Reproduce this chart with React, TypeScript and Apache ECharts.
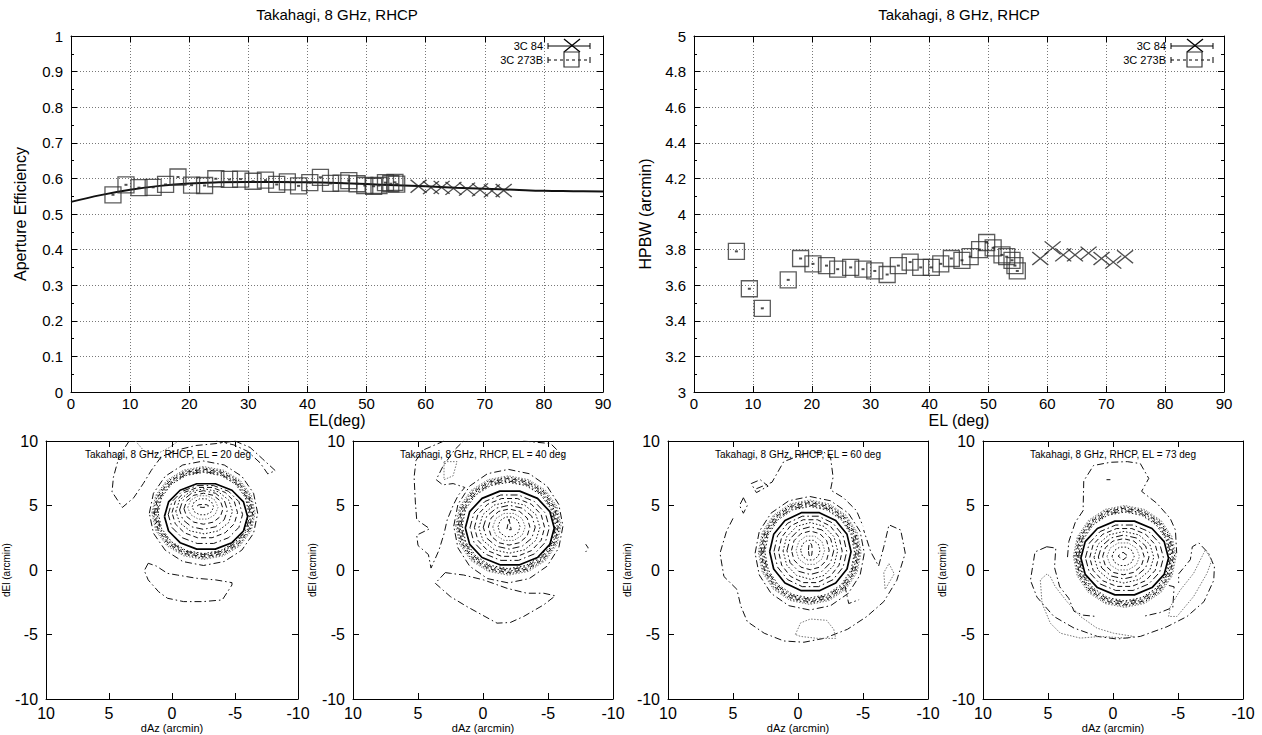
import React, { useEffect, useRef } from "react";
import * as echarts from "echarts";

const FONT = "'Liberation Sans', Arial, Helvetica, sans-serif";

// ---------- Top-left: aperture efficiency ----------
const effElB = [7.1, 9.3, 11.5, 13.9, 16.0, 18.1, 20.4, 22.6, 24.5, 26.8, 28.7, 30.8, 32.9, 34.8, 36.6, 38.5, 40.4, 42.2, 43.9, 45.7, 47.0, 48.4, 49.7, 51.2, 52.1, 53.2, 54.1, 54.8, 55.1];
const effValB = [0.554, 0.582, 0.574, 0.575, 0.583, 0.604, 0.581, 0.580, 0.599, 0.597, 0.598, 0.592, 0.595, 0.583, 0.590, 0.579, 0.588, 0.603, 0.586, 0.587, 0.594, 0.585, 0.580, 0.578, 0.580, 0.588, 0.585, 0.589, 0.584];
const el84 = [58.8, 60.9, 62.7, 64.7, 67.0, 69.2, 71.2, 73.2];
const effVal84 = [0.578, 0.574, 0.575, 0.572, 0.570, 0.568, 0.565, 0.566];
const fitEl = [0, 5, 10, 15, 20, 25, 30, 35, 40, 45, 50, 55, 60, 65, 70, 75, 80, 85, 90];
const fitVal = [0.534, 0.553, 0.568, 0.579, 0.586, 0.589, 0.590, 0.590, 0.589, 0.587, 0.584, 0.581, 0.578, 0.574, 0.571, 0.568, 0.565, 0.564, 0.563];

// ---------- Top-right: HPBW ----------
const hpElB = [7.2, 9.4, 11.6, 16.0, 18.1, 20.2, 22.5, 24.4, 26.6, 28.7, 30.7, 32.8, 34.7, 36.7, 38.5, 40.3, 41.9, 43.7, 45.5, 46.9, 48.5, 49.7, 50.8, 52.3, 53.1, 54.0, 54.5, 54.9];
const hpValB = [3.79, 3.58, 3.47, 3.63, 3.75, 3.72, 3.71, 3.69, 3.70, 3.69, 3.68, 3.66, 3.71, 3.73, 3.70, 3.70, 3.72, 3.75, 3.74, 3.76, 3.80, 3.84, 3.81, 3.77, 3.76, 3.74, 3.71, 3.68];
const hpVal84 = [3.75, 3.81, 3.77, 3.77, 3.78, 3.75, 3.73, 3.76];

// ---------- Bottom: beam maps ----------
const mapEl = [20, 40, 60, 73];
// contour rings: [cx, cy, rx, ry, style, vertices, phaseDeg]
// style: 0 solid, 1 dashed, 2 dotted, 3 dash-dot, 4 grey dotted
const rings20 = [
  [-2.5, 4.4, 4.3, 4.05, 3, 16, 0],
  [-2.5, 4.42, 4.1, 3.6, 4, 16, 0],
  [-2.5, 4.42, 4.0, 3.5, 2, 16, 0],
  [-2.5, 4.42, 3.9, 3.4, 1, 16, 0],
  [-2.5, 4.42, 3.8, 3.3, 2, 16, 0],
  [-2.5, 4.42, 3.7, 3.22, 3, 16, 0],
  [-2.5, 4.42, 3.6, 3.15, 2, 16, 0],
  [-2.7, 4.15, 3.3, 2.6, 0, 14, 0],
  [-2.65, 4.3, 2.95, 2.3, 3, 14, 0],
  [-2.6, 4.45, 2.6, 2.0, 1, 14, 0],
  [-2.55, 4.55, 2.25, 1.75, 2, 12, 0],
  [-2.5, 4.65, 1.9, 1.5, 3, 12, 0],
  [-2.5, 4.75, 1.55, 1.2, 1, 12, 0],
  [-2.45, 4.85, 1.2, 0.95, 4, 10, 0],
  [-2.45, 4.9, 0.85, 0.65, 2, 10, 0],
  [-2.45, 4.97, 0.45, 0.12, 1, 8, 0],
];
const rings40 = [
  [-1.95, 3.4, 4.2, 4.4, 3, 16, 0],
  [-1.95, 3.45, 4.05, 3.85, 4, 16, 0],
  [-1.95, 3.45, 3.95, 3.75, 2, 16, 0],
  [-1.95, 3.45, 3.85, 3.65, 1, 16, 0],
  [-1.95, 3.45, 3.75, 3.55, 2, 16, 0],
  [-1.95, 3.45, 3.65, 3.45, 3, 16, 0],
  [-1.95, 3.45, 3.55, 3.35, 2, 16, 0],
  [-2.06, 3.26, 3.42, 2.93, 0, 14, 0],
  [-2.05, 3.28, 3.05, 2.6, 3, 14, 0],
  [-2.04, 3.3, 2.7, 2.3, 1, 14, 0],
  [-2.03, 3.3, 2.35, 2.0, 2, 12, 0],
  [-2.02, 3.32, 2.0, 1.7, 3, 12, 0],
  [-2.01, 3.33, 1.6, 1.4, 1, 12, 0],
  [-2.0, 3.34, 1.25, 1.1, 4, 10, 0],
  [-2.0, 3.35, 0.85, 0.8, 2, 10, 0],
  [-2.0, 3.4, 0.2, 0.55, 1, 3, 90],
];
const rings60 = [
  [-0.9, 1.3, 4.2, 4.4, 3, 16, 0],
  [-0.9, 1.38, 3.95, 4.05, 4, 16, 0],
  [-0.9, 1.38, 3.85, 3.95, 2, 16, 0],
  [-0.9, 1.38, 3.75, 3.85, 1, 16, 0],
  [-0.9, 1.38, 3.65, 3.75, 2, 16, 0],
  [-0.9, 1.38, 3.55, 3.65, 3, 16, 0],
  [-0.9, 1.38, 3.45, 3.55, 2, 16, 0],
  [-0.95, 1.42, 3.13, 3.1, 0, 14, 0],
  [-0.95, 1.44, 2.8, 2.8, 3, 14, 0],
  [-0.95, 1.46, 2.45, 2.5, 1, 14, 0],
  [-0.95, 1.48, 2.1, 2.2, 2, 12, 0],
  [-0.95, 1.5, 1.8, 1.85, 3, 12, 0],
  [-0.95, 1.52, 1.45, 1.5, 1, 12, 0],
  [-0.95, 1.53, 1.1, 1.15, 4, 10, 0],
  [-0.95, 1.54, 0.75, 0.8, 2, 10, 0],
  [-0.95, 1.55, 0.15, 0.55, 1, 8, 0],
];
const rings73 = [
  [-0.9, 1.05, 3.95, 3.95, 4, 16, 0],
  [-0.9, 1.05, 3.85, 3.85, 2, 16, 0],
  [-0.9, 1.05, 3.75, 3.75, 1, 16, 0],
  [-0.9, 1.05, 3.65, 3.65, 2, 16, 0],
  [-0.9, 1.05, 3.55, 3.55, 3, 16, 0],
  [-0.9, 1.05, 3.45, 3.45, 2, 16, 0],
  [-0.9, 0.93, 3.37, 2.93, 0, 14, 0],
  [-0.88, 0.95, 3.0, 2.6, 3, 14, 0],
  [-0.86, 0.97, 2.65, 2.3, 1, 14, 0],
  [-0.84, 0.99, 2.3, 2.0, 2, 12, 0],
  [-0.82, 1.01, 1.95, 1.7, 3, 12, 0],
  [-0.8, 1.03, 1.6, 1.4, 1, 12, 0],
  [-0.79, 1.05, 1.25, 1.1, 4, 10, 0],
  [-0.78, 1.06, 0.85, 0.75, 2, 10, 0],
  [-0.77, 1.08, 0.38, 0.3, 1, 4, 90],
];

// side-lobe contours: [style, points]
const lobes20 = [
  [3, [[3.4, 10], [4.2, 8.8], [4.65, 7.2], [4.76, 6.06], [3.94, 4.85], [3.04, 5.6], [2.28, 6.7], [1.64, 7.73], [0.87, 8.76], [-0.4, 9.3], [-1.9, 9.65], [-3.5, 9.8], [-5.0, 10]]],
  [3, [[-5.0, 10], [-6.2, 9.5], [-7.2, 8.6], [-8.2, 7.7], [-7.6, 7.45], [-7.0, 8.3], [-6.0, 9.2], [-4.9, 9.7], [-3.5, 10]]],
  [4, [[2.9, 10], [2.2, 9.2], [1.2, 9.0], [0.2, 9.5], [-0.5, 10]]],
  [3, [[1.89, 0.52], [2.2, -0.05], [1.89, -0.77], [1.07, -1.68], [0.36, -2.19], [-0.92, -2.45], [-2.46, -2.45], [-3.99, -2.32], [-4.76, -1.16], [-4.76, -0.98], [-3.48, -0.77], [-1.94, -0.64], [-0.41, -0.39], [0.36, -0.26], [1.25, 0.31], [1.89, 0.52]]],
];
const lobes40 = [
  [3, [[3.0, 10], [4.6, 9.3], [5.15, 8.5], [5.3, 7.2], [5.2, 5.2], [5.1, 3.9], [4.1, 3.2], [5.1, 2.7], [5.0, 1.9], [4.2, 1.2], [4.0, 0.15], [3.4, 1.5], [3.0, 2.8], [2.75, 3.9], [2.3, 5.0], [1.9, 5.8], [1.4, 6.4], [2.3, 6.7], [3.1, 6.6], [3.6, 7.0], [3.1, 8.0], [2.2, 9.3], [1.5, 10]]],
  [4, [[3.0, 8.4], [2.0, 8.4], [2.3, 7.3], [3.0, 7.0], [3.0, 8.4]]],
  [3, [[-3.1, 10], [-5.2, 9.8], [-6.2, 8.8]]],
  [3, [[2.9, -0.2], [3.67, -1.03], [2.51, -2.06], [1.23, -2.84], [-1.08, -4.12], [-2.1, -4.07], [-3.13, -3.6], [-4.67, -2.7], [-5.56, -2.0], [-4.67, -1.8], [-3.38, -1.8], [-1.85, -1.42], [-0.05, -0.77], [1.49, -0.39], [2.51, -0.26], [2.9, -0.2]]],
  [1, [[-7.9, 2.0], [-8.1, 1.7], [-7.9, 1.4]]],
];
const lobes60 = [
  [3, [[3.2, 6.3], [2.0, 6.8], [1.1, 8.4], [-0.44, 9.0], [-1.97, 9.15], [-2.5, 8.76], [-2.7, 7.2], [-2.5, 6.2], [-3.5, 5.6], [-4.5, 4.6], [-5.0, 3.4]]],
  [3, [[3.6, 6.7], [2.9, 7.0], [2.3, 6.5], [3.2, 6.0], [3.6, 6.7]]],
  [3, [[4.2, 5.6], [4.5, 5.0], [4.2, 4.4], [3.9, 5.0], [4.2, 5.6]]],
  [3, [[5.0, 4.0], [5.5, 3.0], [6.0, 1.3], [5.7, -0.5], [4.7, -1.5], [4.4, -2.8], [3.9, -4.0], [2.6, -4.9], [1.1, -5.5], [-0.45, -5.6], [-2.0, -5.3], [-3.8, -4.6], [-5.3, -3.6], [-6.6, -2.45], [-7.6, -0.8], [-8.25, 1.3], [-7.9, 3.1], [-7.0, 3.5], [-6.6, 1.8], [-6.2, 0.3], [-5.6, 1.4], [-5.05, 3.1]]],
  [3, [[-3.6, -1.2], [-3.9, -2.6], [-4.7, -2.3]]],
  [4, [[0.2, -5.0], [-0.2, -4.1], [-0.95, -3.8], [-2.2, -3.9], [-2.75, -4.6], [-2.9, -5.3], [-1.5, -5.3], [-0.2, -5.15], [0.2, -5.0]]],
  [4, [[-7.0, 0.5], [-7.4, -0.3], [-6.7, -1.5], [-6.6, -0.2], [-7.0, 0.5]]],
];
const lobes73 = [
  [3, [[3.5, 1.0], [3.4, 2.2], [2.9, 3.7], [2.3, 4.6], [2.25, 6.9], [1.5, 8.1], [0.2, 8.35], [-1.1, 8.4], [-2.1, 8.25], [-2.75, 7.1], [-2.2, 6.1], [-3.4, 5.15], [-4.4, 4.0], [-4.8, 3.1], [-4.9, 1.3]]],
  [3, [[5.1, 1.8], [6.0, 1.4], [6.35, -0.8], [5.85, -2.1], [4.55, -3.6], [3.0, -4.5], [1.2, -5.15], [-0.3, -5.35], [-2.1, -5.15], [-4.15, -4.4], [-5.7, -3.6], [-7.0, -2.45], [-7.75, -0.8], [-7.8, 0.25], [-7.35, 1.3], [-6.6, 2.1], [-6.1, 1.8], [-5.95, 0.8], [-5.05, -0.3], [-5.05, -1.0]]],
  [3, [[5.1, 1.8], [4.4, 1.7], [4.5, 0.2], [4.1, -1.3], [3.4, -2.2], [3.0, -3.2], [2.3, -3.5], [1.3, -3.6]]],
  [3, [[-4.3, -1.2], [-4.7, -1.3], [-4.6, -2.9], [-3.6, -3.3], [-2.3, -3.6]]],
  [4, [[5.08, -0.31], [5.59, -0.77], [5.46, -2.58], [4.82, -4.12], [4.05, -4.9], [2.51, -5.28], [0.97, -5.15], [-1.08, -5.28], [-1.59, -5.15], [-0.05, -4.9], [1.23, -4.51], [2.51, -3.6], [3.54, -2.45], [4.44, -1.29], [4.82, -0.52], [5.08, -0.31]]],
  [4, [[-7.1, 1.55], [-7.6, 0.77], [-7.23, -0.26], [-6.2, -2.06], [-4.92, -3.6], [-4.28, -3.6], [-4.41, -2.84], [-5.18, -1.55], [-6.2, -0.26], [-6.97, 1.29], [-7.1, 1.55]]],
  [1, [[0.5, 7.0], [0.2, 7.0]]],
];

const mapRings = [rings20, rings40, rings60, rings73];
const mapLobes = [lobes20, lobes40, lobes60, lobes73];

// ---------- layout ----------
const topGrids = [
  { left: 71, top: 36, width: 532, height: 356 },
  { left: 694, top: 36, width: 530, height: 356 },
];
const botLefts = [38, 353, 668, 983];
const BOT_TOP = 441;
const BOT_W = 260;
const BOT_H = 258;

const lineStyles: any[] = [
  { color: "#000", width: 1.7, type: "solid" },
  { color: "#111", width: 1, type: [5, 3] },
  { color: "#111", width: 1, type: [1.5, 2] },
  { color: "#111", width: 1, type: [7, 3, 1.5, 3] },
  { color: "#777", width: 1, type: [1.5, 1.5] },
];

function ringPoints(r: number[]) {
  const [cx, cy, rx, ry, , n, ph] = r;
  const pts: number[][] = [];
  for (let i = 0; i <= n; i++) {
    const a = ((ph + (360 * i) / n) * Math.PI) / 180;
    pts.push([cx + rx * Math.cos(a), cy + ry * Math.sin(a)]);
  }
  return pts;
}

const axisLine = { show: true, onZero: false, lineStyle: { color: "#000", width: 1 } };
const labelStyle = (size: number) => ({ color: "#000", fontFamily: FONT, fontSize: size });

function buildOption() {
  const grid: any[] = [];
  const xAxis: any[] = [];
  const yAxis: any[] = [];
  const series: any[] = [];
  const graphic: any[] = [];

  // top grids
  const topY = [
    { min: 0, max: 1, interval: 0.1, name: "Aperture Efficiency", gap: 43 },
    { min: 3, max: 5, interval: 0.2, name: "HPBW (arcmin)", gap: 41 },
  ];
  const topXName = ["EL(deg)", "EL (deg)"];
  topGrids.forEach((g, i) => {
    grid.push({ ...g, containLabel: false });
    const gi = grid.length - 1;
    const split = { show: true, lineStyle: { color: "#555", width: 0.8, type: [1, 2] } };
    xAxis.push({
      type: "value", gridIndex: gi, min: 0, max: 90, interval: 10, position: "bottom",
      axisLine, axisTick: { inside: true, length: 6, lineStyle: { color: "#000" } },
      axisLabel: { ...labelStyle(15), margin: 4, showMinLabel: true, showMaxLabel: true },
      splitLine: split,
      name: topXName[i], nameLocation: "middle", nameGap: 20,
      nameTextStyle: { ...labelStyle(16) },
    });
    xAxis.push({
      type: "value", gridIndex: gi, min: 0, max: 90, interval: 10, position: "top",
      axisLine, axisTick: { inside: true, length: 6, lineStyle: { color: "#000" } },
      axisLabel: { show: false }, splitLine: { show: false },
    });
    const ty = topY[i];
    yAxis.push({
      type: "value", gridIndex: gi, min: ty.min, max: ty.max, interval: ty.interval, position: "left",
      axisLine, axisTick: { inside: true, length: 6, lineStyle: { color: "#000" } },
      minorTick: { show: true, splitNumber: 2, length: 3, lineStyle: { color: "#000" } },
      axisLabel: { ...labelStyle(15), margin: 8, showMinLabel: true, showMaxLabel: true },
      splitLine: split,
      name: ty.name, nameLocation: "middle", nameGap: ty.gap, nameRotate: 90,
      nameTextStyle: { ...labelStyle(16) },
    });
    yAxis.push({
      type: "value", gridIndex: gi, min: ty.min, max: ty.max, interval: ty.interval, position: "right",
      axisLine, axisTick: { inside: true, length: 6, lineStyle: { color: "#000" } },
      minorTick: { show: true, splitNumber: 2, length: 3, lineStyle: { color: "#000" } },
      axisLabel: { show: false }, splitLine: { show: false },
    });
    graphic.push({
      type: "text", x: g.left + g.width / 2, y: 14, silent: true,
      style: { text: "Takahagi, 8 GHz, RHCP", fontSize: 15, fontFamily: FONT, fill: "#000", align: "center", verticalAlign: "middle", textAlign: "center", textVerticalAlign: "middle" },
    });
  });

  const ax = (gi: number) => ({ xAxisIndex: gi * 2, yAxisIndex: gi * 2 });
  const squareStyle = { color: "rgba(0,0,0,0)", borderColor: "#333", borderWidth: 1.3 };
  const crossPath = "path://M0,0L16,13M16,0L0,13";
  const crossStyle = { color: "rgba(0,0,0,0)", borderColor: "#222", borderWidth: 1.3 };

  // efficiency
  series.push({
    type: "line", ...ax(0), data: fitEl.map((e, i) => [e, fitVal[i]]), smooth: 0.4,
    showSymbol: false, lineStyle: { color: "#111", width: 2 }, silent: true, z: 3,
  });
  series.push({
    type: "scatter", ...ax(0), data: effElB.map((e, i) => [e, effValB[i]]),
    symbol: "rect", symbolSize: 16, itemStyle: squareStyle, silent: true, z: 4,
  });
  series.push({
    type: "scatter", ...ax(0), data: effElB.map((e, i) => [e, effValB[i]]),
    symbol: "rect", symbolSize: [3, 2], itemStyle: { color: "#222" }, silent: true, z: 5,
  });
  series.push({
    type: "scatter", ...ax(0), data: el84.map((e, i) => [e, effVal84[i]]),
    symbol: crossPath, symbolSize: [16, 13], itemStyle: crossStyle, silent: true, z: 4,
  });
  // hpbw
  series.push({
    type: "scatter", ...ax(1), data: hpElB.map((e, i) => [e, hpValB[i]]),
    symbol: "rect", symbolSize: 16, itemStyle: squareStyle, silent: true, z: 4,
  });
  series.push({
    type: "scatter", ...ax(1), data: hpElB.map((e, i) => [e, hpValB[i]]),
    symbol: "rect", symbolSize: [3, 2], itemStyle: { color: "#222" }, silent: true, z: 5,
  });
  series.push({
    type: "scatter", ...ax(1), data: el84.map((e, i) => [e, hpVal84[i]]),
    symbol: crossPath, symbolSize: [16, 13], itemStyle: crossStyle, silent: true, z: 4,
  });

  // legends
  const legendOffsets = [0, 623];
  legendOffsets.forEach((dx) => {
    const ls = { fontSize: 11, fontFamily: FONT, fill: "#000", align: "right", verticalAlign: "middle", textAlign: "right", textVerticalAlign: "middle" };
    graphic.push({ type: "text", x: 543 + dx, y: 46, silent: true, style: { ...ls, text: "3C 84" } });
    graphic.push({ type: "text", x: 543 + dx, y: 60, silent: true, style: { ...ls, text: "3C 273B" } });
    const st = { stroke: "#000", lineWidth: 1 };
    graphic.push({ type: "line", silent: true, shape: { x1: 548 + dx, y1: 46, x2: 590 + dx, y2: 46 }, style: st });
    graphic.push({ type: "line", silent: true, shape: { x1: 548 + dx, y1: 43, x2: 548 + dx, y2: 49 }, style: st });
    graphic.push({ type: "line", silent: true, shape: { x1: 590 + dx, y1: 43, x2: 590 + dx, y2: 49 }, style: st });
    graphic.push({ type: "line", silent: true, shape: { x1: 564 + dx, y1: 39, x2: 580 + dx, y2: 52 }, style: { stroke: "#000", lineWidth: 1.3 } });
    graphic.push({ type: "line", silent: true, shape: { x1: 580 + dx, y1: 39, x2: 564 + dx, y2: 52 }, style: { stroke: "#000", lineWidth: 1.3 } });
    graphic.push({ type: "line", silent: true, shape: { x1: 548 + dx, y1: 60, x2: 590 + dx, y2: 60 }, style: { stroke: "#000", lineWidth: 1, lineDash: [3, 3] } });
    graphic.push({ type: "line", silent: true, shape: { x1: 548 + dx, y1: 57, x2: 548 + dx, y2: 63 }, style: st });
    graphic.push({ type: "line", silent: true, shape: { x1: 590 + dx, y1: 57, x2: 590 + dx, y2: 63 }, style: st });
    graphic.push({ type: "rect", silent: true, shape: { x: 564 + dx, y: 52, width: 15, height: 15 }, style: { fill: "none", stroke: "#333", lineWidth: 1.2 } });
  });

  // bottom maps
  botLefts.forEach((left, p) => {
    grid.push({ left, top: BOT_TOP, width: BOT_W, height: BOT_H, containLabel: false });
    const gi = grid.length - 1;
    const tick = { inside: true, length: 6, lineStyle: { color: "#000" } };
    xAxis.push({
      type: "value", gridIndex: gi, min: -10, max: 10, interval: 5, inverse: true, position: "bottom",
      axisLine, axisTick: tick,
      axisLabel: { ...labelStyle(16), margin: 6, showMinLabel: true, showMaxLabel: true },
      splitLine: { show: false },
      name: "dAz (arcmin)", nameLocation: "middle", nameGap: 23, nameTextStyle: { ...labelStyle(11) },
    });
    xAxis.push({
      type: "value", gridIndex: gi, min: -10, max: 10, interval: 5, inverse: true, position: "top",
      axisLine, axisTick: tick, axisLabel: { show: false }, splitLine: { show: false },
    });
    yAxis.push({
      type: "value", gridIndex: gi, min: -10, max: 10, interval: 5, position: "left",
      axisLine, axisTick: tick,
      axisLabel: { ...labelStyle(16), margin: 8, showMinLabel: true, showMaxLabel: true },
      splitLine: { show: false },
      name: "dEl (arcmin)", nameLocation: "middle", nameGap: 20, nameRotate: 90, nameTextStyle: { ...labelStyle(10) },
    });
    yAxis.push({
      type: "value", gridIndex: gi, min: -10, max: 10, interval: 5, position: "right",
      axisLine, axisTick: tick, axisLabel: { show: false }, splitLine: { show: false },
    });
    mapRings[p].forEach((r: any) => {
      series.push({
        type: "line", ...ax(gi), data: ringPoints(r), showSymbol: false, silent: true,
        lineStyle: lineStyles[r[4]], z: r[4] === 0 ? 4 : 3,
      });
    });
    mapLobes[p].forEach((l: any) => {
      series.push({
        type: "line", ...ax(gi), data: l[1], showSymbol: false, silent: true,
        lineStyle: lineStyles[l[0]], z: 3,
      });
    });
    graphic.push({
      type: "text", x: left + BOT_W / 2, y: 454, silent: true, z: 100,
      style: { text: `Takahagi, 8 GHz, RHCP, EL = ${mapEl[p]} deg`, fontSize: 10, fontFamily: FONT, fill: "#000", align: "center", verticalAlign: "middle", textAlign: "center", textVerticalAlign: "middle" },
    });
  });

  return {
    animation: false,
    backgroundColor: "#fff",
    textStyle: { fontFamily: FONT },
    grid, xAxis, yAxis, series, graphic,
  };
}

export default function App() {
  const ref = useRef<HTMLDivElement>(null);
  useEffect(() => {
    const chart = echarts.init(ref.current!, null, { renderer: "svg" });
    chart.setOption(buildOption() as any);
    return () => chart.dispose();
  }, []);
  return (
    <div
      ref={ref}
      style={{ position: "fixed", left: 0, top: 0, width: 1262, height: 735, background: "#fff" }}
    />
  );
}
